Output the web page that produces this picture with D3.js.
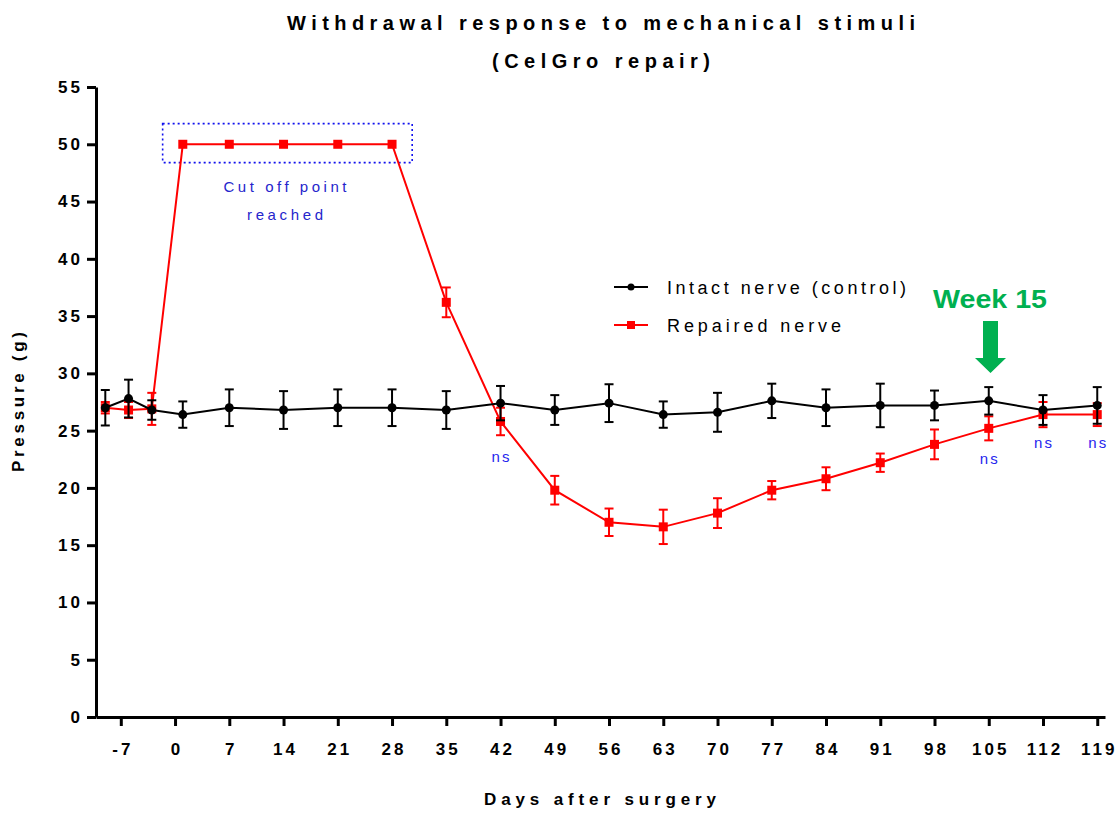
<!DOCTYPE html>
<html>
<head>
<meta charset="utf-8">
<script src="https://cdn.jsdelivr.net/npm/d3@7"></script>
<style>
  body { margin: 0; background: #fff; }
  svg { display: block; }
  text { font-family: "Liberation Sans", Arial, sans-serif; }
</style>
</head>
<body>
<div id="chart"></div>
<script>
// data
const days = [-9, -6, -3, 1, 7, 14, 21, 28, 35, 42, 49, 56, 63, 70, 77, 84, 91, 98, 105, 112, 119];
const intactMean = [27.0, 27.8, 26.8, 26.4, 27.0, 26.8, 27.0, 27.0, 26.8, 27.4, 26.8, 27.4, 26.4, 26.6, 27.6, 27.0, 27.2, 27.2, 27.6, 26.8, 27.2];
const intactErr = [1.55, 1.65, 0.85, 1.15, 1.6, 1.65, 1.6, 1.6, 1.65, 1.5, 1.3, 1.65, 1.15, 1.7, 1.5, 1.6, 1.9, 1.3, 1.2, 1.3, 1.6];
const repairedMean = [27.0, 26.8, 26.9, 50, 50, 50, 50, 50, 36.2, 25.8, 19.8, 17.0, 16.6, 17.8, 19.8, 20.8, 22.2, 23.8, 25.2, 26.4, 26.4];
const repairedErr = [0.5, 0.7, 1.4, 0, 0, 0, 0, 0, 1.3, 1.2, 1.25, 1.2, 1.5, 1.3, 0.8, 1.0, 0.8, 1.3, 1.05, 1.1, 1.0];

const xTicks = [-7, 0, 7, 14, 21, 28, 35, 42, 49, 56, 63, 70, 77, 84, 91, 98, 105, 112, 119];
const yTicks = [0, 5, 10, 15, 20, 25, 30, 35, 40, 45, 50, 55];

// "ns" labels (day, baseline value)
const nsDays = [42, 105, 112, 119];
const nsLevel = [22.3, 22.1, 23.45, 23.45];

const width = 1120, height = 814;

let svg = d3.select("#chart").append("svg")
  .attr("width", width)
  .attr("height", height);

let x = d3.scaleLinear().domain([-10.2, 120]).range([96, 1105]);
let y = d3.scaleLinear().domain([0, 55]).range([717, 87]);

// title
svg.append("text")
  .attr("x", 601).attr("y", 30)
  .attr("text-anchor", "middle")
  .attr("font-size", "20px").attr("font-weight", "bold")
  .attr("textLength", 628).attr("lengthAdjust", "spacing")
  .text("Withdrawal response to mechanical stimuli");
svg.append("text")
  .attr("x", 601).attr("y", 68)
  .attr("text-anchor", "middle")
  .attr("font-size", "20px").attr("font-weight", "bold")
  .attr("textLength", 218).attr("lengthAdjust", "spacing")
  .text("(CelGro repair)");

// axes
let yAxis = svg.append("g")
  .attr("transform", "translate(96,0)")
  .call(d3.axisLeft(y).tickValues(yTicks).tickSize(9).tickSizeOuter(0).tickPadding(7));
let xAxis = svg.append("g")
  .attr("transform", "translate(0,717)")
  .call(d3.axisBottom(x).tickValues(xTicks).tickSize(9).tickSizeOuter(0).tickPadding(17)
    .tickFormat(function (d) { return String(d); }));

[yAxis, xAxis].forEach(function (ax) {
  ax.select(".domain").attr("stroke", "#000").attr("stroke-width", 3);
  ax.selectAll(".tick line").attr("stroke", "#000").attr("stroke-width", 3);
  ax.selectAll(".tick text")
    .attr("font-family", "'Liberation Sans', Arial, sans-serif")
    .attr("font-size", "17px").attr("font-weight", "bold")
    .attr("fill", "#000")
    .attr("letter-spacing", "3px");
});
yAxis.selectAll(".tick text").attr("dx", "3px");
xAxis.selectAll(".tick text").attr("dx", "1.5px");

// axis titles
svg.append("text")
  .attr("transform", "translate(24,402) rotate(-90)")
  .attr("text-anchor", "middle")
  .attr("font-size", "17px").attr("font-weight", "bold")
  .attr("textLength", 140).attr("lengthAdjust", "spacing")
  .text("Pressure (g)");
svg.append("text")
  .attr("x", 600).attr("y", 805)
  .attr("text-anchor", "middle")
  .attr("font-size", "17px").attr("font-weight", "bold")
  .attr("textLength", 232).attr("lengthAdjust", "spacing")
  .text("Days after surgery");

// cut-off box and label
svg.append("rect")
  .attr("x", x(-1.6)).attr("y", y(51.8))
  .attr("width", x(30.6) - x(-1.6))
  .attr("height", y(48.4) - y(51.8))
  .attr("fill", "none")
  .attr("stroke", "#1010ee").attr("stroke-width", 1.6)
  .attr("stroke-dasharray", "2,3");
svg.append("text")
  .attr("x", 285).attr("y", 192)
  .attr("text-anchor", "middle")
  .attr("font-family", "'Open Sans', sans-serif")
  .attr("font-size", "15px").attr("fill", "#2525cc")
  .attr("textLength", 123).attr("lengthAdjust", "spacing")
  .text("Cut off point");
svg.append("text")
  .attr("x", 285).attr("y", 220)
  .attr("text-anchor", "middle")
  .attr("font-family", "'Open Sans', sans-serif")
  .attr("font-size", "15px").attr("fill", "#2525cc")
  .attr("textLength", 76).attr("lengthAdjust", "spacing")
  .text("reached");

// series
let series = [
  { name: "repaired", mean: repairedMean, err: repairedErr, color: "#ff0000", shape: "square" },
  { name: "intact", mean: intactMean, err: intactErr, color: "#000000", shape: "circle" }
];

let line = d3.line()
  .x(function (d) { return x(d.day); })
  .y(function (d) { return y(d.mean); });

series.forEach(function (s) {
  let pts = days.map(function (d, i) { return { day: d, mean: s.mean[i], err: s.err[i] }; });
  let g = svg.append("g");

  // error bars
  let eb = g.selectAll(".eb").data(pts.filter(function (d) { return d.err > 0; })).enter().append("g");
  eb.append("line")
    .attr("x1", function (d) { return x(d.day); })
    .attr("x2", function (d) { return x(d.day); })
    .attr("y1", function (d) { return y(d.mean + d.err); })
    .attr("y2", function (d) { return y(d.mean - d.err); })
    .attr("stroke", s.color).attr("stroke-width", 2);
  [1, -1].forEach(function (sign) {
    eb.append("line")
      .attr("x1", function (d) { return x(d.day) - 4.5; })
      .attr("x2", function (d) { return x(d.day) + 4.5; })
      .attr("y1", function (d) { return y(d.mean + sign * d.err); })
      .attr("y2", function (d) { return y(d.mean + sign * d.err); })
      .attr("stroke", s.color).attr("stroke-width", 2);
  });

  g.append("path")
    .datum(pts)
    .attr("d", line)
    .attr("fill", "none")
    .attr("stroke", s.color).attr("stroke-width", 2);

  if (s.shape == "circle") {
    g.selectAll("circle").data(pts).enter().append("circle")
      .attr("cx", function (d) { return x(d.day); })
      .attr("cy", function (d) { return y(d.mean); })
      .attr("r", 4.5)
      .attr("fill", s.color);
  } else {
    g.selectAll("rect").data(pts).enter().append("rect")
      .attr("x", function (d) { return x(d.day) - 4.5; })
      .attr("y", function (d) { return y(d.mean) - 4.5; })
      .attr("width", 9).attr("height", 9)
      .attr("fill", s.color);
  }
});

// ns labels
svg.selectAll(".ns").data(nsDays).enter().append("text")
  .attr("x", function (d) { return x(d) + 1; })
  .attr("y", function (d, i) { return y(nsLevel[i]); })
  .attr("text-anchor", "middle")
  .attr("font-family", "'Open Sans', sans-serif")
  .attr("font-size", "15px").attr("fill", "#2525ee")
  .attr("letter-spacing", "2px")
  .text("ns");

// legend
let legend = [
  { label: "Intact nerve (control)", color: "#000000", shape: "circle", y: 287, len: 239 },
  { label: "Repaired nerve", color: "#ff0000", shape: "square", y: 325, len: 174 }
];
legend.forEach(function (l) {
  svg.append("line")
    .attr("x1", 614).attr("x2", 648)
    .attr("y1", l.y).attr("y2", l.y)
    .attr("stroke", l.color).attr("stroke-width", 2);
  if (l.shape == "circle") {
    svg.append("circle").attr("cx", 631).attr("cy", l.y).attr("r", 3.5).attr("fill", l.color);
  } else {
    svg.append("rect").attr("x", 627).attr("y", l.y - 4).attr("width", 8).attr("height", 8).attr("fill", l.color);
  }
  svg.append("text")
    .attr("x", 667).attr("y", l.y + 7)
    .attr("font-size", "18px")
    .attr("textLength", l.len).attr("lengthAdjust", "spacing")
    .text(l.label);
});

// Week 15 marker
svg.append("text")
  .attr("x", 990).attr("y", 308)
  .attr("text-anchor", "middle")
  .attr("font-family", "'Open Sans', sans-serif")
  .attr("font-size", "25px").attr("font-weight", "bold")
  .attr("fill", "#00b050")
  .attr("textLength", 114).attr("lengthAdjust", "spacingAndGlyphs")
  .text("Week 15");
svg.append("path")
  .attr("d", "M983,321 L998,321 L998,358 L1006,358 L990.5,373 L975,358 L983,358 Z")
  .attr("fill", "#00b050");
</script>
</body>
</html>
